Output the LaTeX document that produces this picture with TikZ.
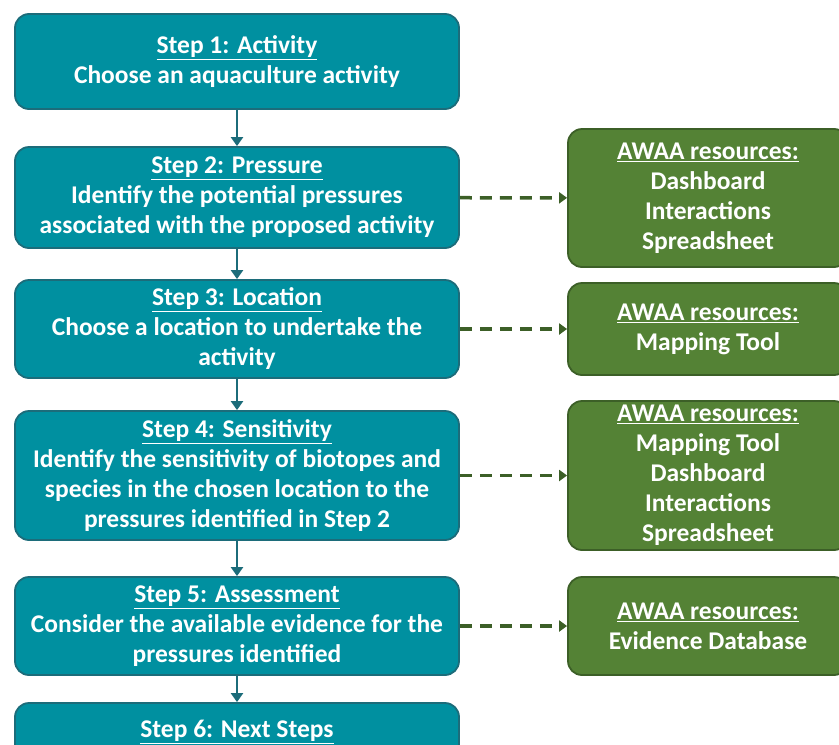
\documentclass[tikz,border=0pt]{standalone}
\usepackage{fontspec}
\setmainfont{Carlito}
\usetikzlibrary{arrows.meta}
\definecolor{tealfill}{HTML}{0090A0}
\definecolor{tealedge}{HTML}{1C6C7A}
\definecolor{greenfill}{HTML}{548235}
\definecolor{greenedge}{HTML}{3C5F27}
\begin{document}
\begin{tikzpicture}[x=1pt,y=-1pt,
  stepbox/.style={draw=tealedge,fill=tealfill,line width=1.8pt,rounded corners=14pt,
    minimum width=444pt,text=white,align=center,font=\fontsize{25.5}{30}\selectfont\bfseries,inner sep=0pt},
  resbox/.style={draw=greenedge,fill=greenfill,line width=1.8pt,rounded corners=14pt,
    minimum width=280pt,text=white,align=center,font=\fontsize{25.5}{30}\selectfont\bfseries,inner sep=0pt},
  flow/.style={draw=tealedge,line width=2.8pt,-{Triangle[length=9pt,width=12pt]}},
  resflow/.style={draw=greenedge,line width=3.5pt,dash pattern=on 12pt off 8pt,-{Triangle[length=8pt,width=11pt]}}]
\clip (0,0) rectangle (839,745);
\useasboundingbox (0,0) rectangle (839,745);
\node[stepbox,minimum height=95pt] (b1) at (237,61.5) {\underline{Step 1: Activity}\\Choose an aquaculture activity};
\node[stepbox,minimum height=101pt] (b2) at (237,197.5) {\underline{Step 2: Pressure}\\Identify the potential pressures\\associated with the proposed activity};
\node[stepbox,minimum height=98pt] (b3) at (237,329) {\underline{Step 3: Location}\\Choose a location to undertake the\\activity};
\node[stepbox,minimum height=129pt] (b4) at (237,475.5) {\underline{Step 4: Sensitivity}\\Identify the sensitivity of biotopes and\\species in the chosen location to the\\pressures identified in Step 2};
\node[stepbox,minimum height=98pt] (b5) at (237,626) {\underline{Step 5: Assessment}\\Consider the available evidence for the\\pressures identified};
\node[stepbox,minimum height=82pt] (b6) at (237,744) {\underline{Step 6: Next Steps}\\\phantom{X}};
\node[resbox,minimum height=138pt] (g1) at (708,198) {\underline{AWAA resources:}\\Dashboard\\Interactions\\Spreadsheet};
\node[resbox,minimum height=92pt] (g2) at (708,329) {\underline{AWAA resources:}\\Mapping Tool};
\node[resbox,minimum height=149pt] (g3) at (708,475.5) {\underline{AWAA resources:}\\Mapping Tool\\Dashboard\\Interactions\\Spreadsheet};
\node[resbox,minimum height=98pt] (g4) at (708,626) {\underline{AWAA resources:}\\Evidence Database};
\draw[flow] (b1) -- (b2);
\draw[flow] (b2) -- (b3);
\draw[flow] (b3) -- (b4);
\draw[flow] (b4) -- (b5);
\draw[flow] (b5) -- (b6);
\draw[resflow] (b2) -- (g1);
\draw[resflow] (b3) -- (g2);
\draw[resflow] (b4) -- (g3);
\draw[resflow] (b5) -- (g4);
\end{tikzpicture}
\end{document}
